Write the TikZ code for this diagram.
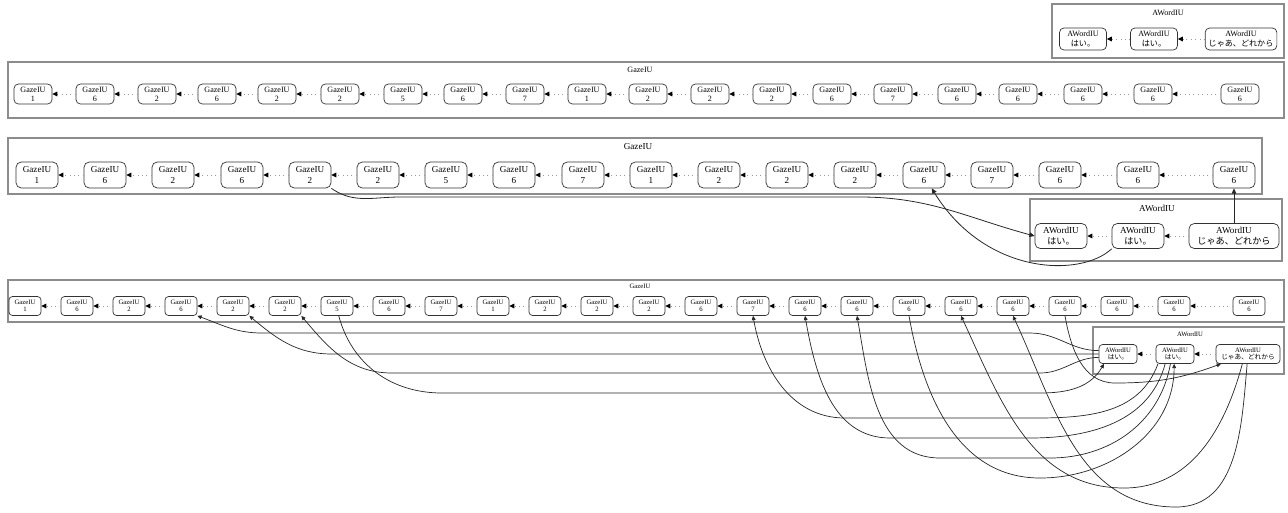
\documentclass[tikz,border=0pt]{standalone}
\usepackage{fontspec}
\setmainfont{Liberation Serif}
\newfontfamily\jpfont{Noto Sans CJK JP}
\usetikzlibrary{arrows.meta,positioning}

\tikzset{
  iu/.style={draw=black!80, line width=0.4pt, rounded corners=2.5pt, align=center, inner sep=0.5pt},
  cluster/.style={draw=black!45, line width=0.8pt},
  nextedge/.style={draw=black!40, dotted, line width=0.5pt, -{Triangle[length=2.8pt, width=2.6pt, color=black]}},
  ground/.style={draw=black!85, line width=0.45pt, -{Triangle[length=3pt, width=2.6pt]}},
  groundsm/.style={draw=black!85, line width=0.4pt, -{Triangle[length=2.4pt, width=2.2pt]}},
  fsmall/.style={font=\fontsize{3.8}{4.3}\selectfont},
  fmid/.style={font=\fontsize{4.6}{5.2}\selectfont},
  fbig/.style={font=\fontsize{5.2}{6}\selectfont},
  wordtop/.style={iu, fmid, minimum width=0.94cm, minimum height=0.44cm, inner xsep=2pt},
  gazetop/.style={iu, fmid, minimum width=0.76cm, minimum height=0.4cm},
  gazemid/.style={iu, fbig, minimum width=0.84cm, minimum height=0.52cm, rounded corners=3pt},
  wordmid/.style={iu, fbig, minimum width=1.04cm, minimum height=0.5cm, inner xsep=2pt, rounded corners=3pt},
  gazelow/.style={iu, fsmall, minimum width=0.64cm, minimum height=0.38cm, rounded corners=2pt},
  wordlow/.style={iu, fsmall, minimum width=0.76cm, minimum height=0.38cm, inner xsep=1.5pt, rounded corners=2pt},
}

\begin{document}
\begin{tikzpicture}[x=0.02cm, y=-0.02cm]
  \useasboundingbox (0,0) rectangle (1288,512);

  % words on their own
  \draw[cluster] (1052,4) rectangle (1284,58);
  \node[fmid] (wlabA) at (1168,13) {AWordIU};
  \node[wordtop] (wordA1) at (1083,39) {AWordIU\\{\jpfont はい。}};
  \node[wordtop] (wordA2) at (1154,39) {AWordIU\\{\jpfont はい。}};
  \node[wordtop] (wordA3) at (1241,39) {AWordIU\\{\jpfont じゃあ、どれから}};
  \draw[nextedge] (wordA2) -- (wordA1);
  \draw[nextedge] (wordA3) -- (wordA2);

  % gaze on its own
  \draw[cluster] (8,62) rectangle (1284,118);
  \node[fmid] (glabA) at (640,70) {GazeIU};
  \foreach \x/\v [count=\i from 0] in {33/1,95/6,157/2,217/6,277/2,340/2,403/5,463/6,525/7,587/1,648/2,710/2,772/2,832/6,893/7,957/6,1018/6,1083/6,1153/6,1240/6}
    \node[gazetop] (gazeA\i) at (\x,94) {GazeIU\\\v};
  \foreach \i [remember=\i as \p (initially 0)] in {1,...,19}
    \draw[nextedge] (gazeA\i) -- (gazeA\p);

  % gaze and words, few links
  \draw[cluster] (8,138) rectangle (1262,194);
  \node[fbig] (glabB) at (638,147) {GazeIU};
  \foreach \x/\v [count=\i from 0] in {37/1,105/6,173/2,242/6,310/2,378/2,446/5,514/6,583/7,651/1,719/2,787/2,855/2,924/6,992/7,1060/6,1138/6,1234/6}
    \node[gazemid] (gazeB\i) at (\x,175) {GazeIU\\\v};
  \foreach \i [remember=\i as \p (initially 0)] in {1,...,17}
    \draw[nextedge] (gazeB\i) -- (gazeB\p);

  \draw[cluster] (1030,199) rectangle (1282,261);
  \node[fbig] (wlabB) at (1157,208) {AWordIU};
  \node[wordmid] (wordB1) at (1061,236) {AWordIU\\{\jpfont はい。}};
  \node[wordmid] (wordB2) at (1138,236) {AWordIU\\{\jpfont はい。}};
  \node[wordmid, minimum width=1.8cm] (wordB3) at (1234,236) {AWordIU\\{\jpfont じゃあ、どれから}};
  \draw[nextedge] (wordB2) -- (wordB1);
  \draw[nextedge] (wordB3) -- (wordB2);

  \draw[ground] (gazeB4.south east) to[out=-35, in=180] (400,197) -- (860,197)
    to[out=0, in=165] (wordB1.west);
  \draw[ground] (wordB2.south west) .. controls (1080,278) and (985,275) .. (gazeB13.-60);
  \draw[ground] (wordB3) -- (gazeB17);

  % gaze and words, many links
  \draw[cluster] (8,280) rectangle (1284,322);
  \node[fsmall] (glabC) at (640,286) {GazeIU};
  \foreach \x/\v [count=\i from 0] in {25/1,77/6,129/2,181/6,233/2,285/2,337/5,389/6,441/7,493/1,545/2,597/2,649/2,701/6,753/7,805/6,857/6,909/6,961/6,1013/6,1065/6,1117/6,1174/6,1249/6}
    \node[gazelow] (gazeC\i) at (\x,306) {GazeIU\\\v};
  \foreach \i [remember=\i as \p (initially 0)] in {1,...,23}
    \draw[nextedge] (gazeC\i) -- (gazeC\p);

  \draw[cluster] (1093,327) rectangle (1284,374);
  \node[fsmall] (wlabC) at (1190,334) {AWordIU};
  \node[wordlow] (wordC1) at (1118,354) {AWordIU\\{\jpfont はい。}};
  \node[wordlow] (wordC2) at (1175,354) {AWordIU\\{\jpfont はい。}};
  \node[wordlow, minimum width=1.28cm] (wordC3) at (1248,354) {AWordIU\\{\jpfont じゃあ、どれから}};
  \draw[nextedge] (wordC2) -- (wordC1);
  \draw[nextedge] (wordC3) -- (wordC2);

  % links to the first word
  \draw[groundsm] (wordC1.170) to[out=180, in=0] (1030,333) -- (262,333) to[out=180, in=-20] (gazeC3.south east);
  \draw[groundsm] (wordC1.west) -- (332,354) to[out=180, in=-40] (gazeC4.south east);
  \draw[groundsm] (wordC1.-170) to[out=180, in=0] (1040,373) -- (392,373) to[out=180, in=-50] (gazeC5.south east);
  \draw[groundsm] (gazeC6.-80) to[out=-75, in=180] (442,393) -- (1040,393) to[out=0, in=-120] (wordC1.-145);
  % links to the second word
  \draw[groundsm] (wordC2.-150) to[out=-110, in=0] (1010,418) -- (845,418) to[out=180, in=-80] (gazeC14.south);
  \draw[groundsm] (wordC2.-135) to[out=-105, in=0] (1030,438) -- (890,438) to[out=180, in=-80] (gazeC15.south);
  \draw[groundsm] (wordC2.-115) to[out=-100, in=0] (1050,458) -- (940,458) to[out=180, in=-80] (gazeC16.south);
  \draw[groundsm] (gazeC17.south) to[out=-80, in=180] (1040,478) to[out=0, in=-90] (wordC2.-95);
  % links to the third word
  \draw[groundsm] (wordC3.-120) to[out=-105, in=0] (1124,488) to[out=180, in=-65] (gazeC18.south);
  \draw[groundsm] (wordC3.-95) to[out=-95, in=0] (1176,507) to[out=180, in=-65] (gazeC19.south);
  \draw[groundsm] (gazeC20.south) to[out=-80, in=180] (1115,383) to[out=0, in=-160] (wordC3.-160);
\end{tikzpicture}
\end{document}
